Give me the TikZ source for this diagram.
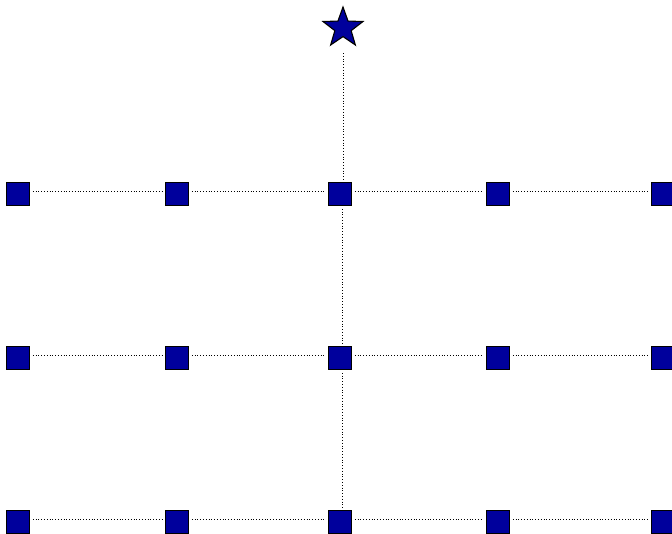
\documentclass[tikz,border=0pt]{standalone}
\usetikzlibrary{shapes.geometric}
\definecolor{gridNavy}{HTML}{00009C}

\tikzset{
  cell/.style={draw=black, fill=gridNavy, line width=1.2pt,
    minimum size=23.5pt, inner sep=0pt, outer sep=3pt},
  peak/.style={star, star points=5, star point ratio=2.45, draw=black,
    fill=gridNavy, line width=1.1pt, minimum size=42pt, inner sep=0pt},
  link/.style={black, line width=1pt, dash pattern=on 1pt off 1.8pt}
}

\begin{document}
\begin{tikzpicture}[x=1pt, y=-1pt]
\useasboundingbox (0,0) rectangle (672,533);

% --- TOP STAR ---
\node[peak] (top) at (343,28) {};

% --- GRID OF SQUARES ---
\foreach \cy [count=\r] in {194,358,522} {
  \foreach \cx [count=\c] in {18,177,340,498,663} {
    \node[cell] (cell-\r-\c) at (\cx,\cy) {};
  }
}

% --- ROW LINKS ---
\foreach \r in {1,2,3} {
  \foreach \c [evaluate=\c as \n using int(\c+1)] in {1,...,4} {
    \draw[link] ([yshift=3pt]cell-\r-\c.east) -- ([yshift=3pt]cell-\r-\n.west);
  }
}

% --- CENTRE COLUMN ---
\draw[link] ([yshift=-25pt]top.center) -- (top.center |- cell-1-3.north);
\draw[link] ([xshift=2pt]cell-1-3.south) -- ([xshift=2pt]cell-2-3.north);
\draw[link] ([xshift=2pt]cell-2-3.south) -- ([xshift=2pt]cell-3-3.north);

\end{tikzpicture}
\end{document}
